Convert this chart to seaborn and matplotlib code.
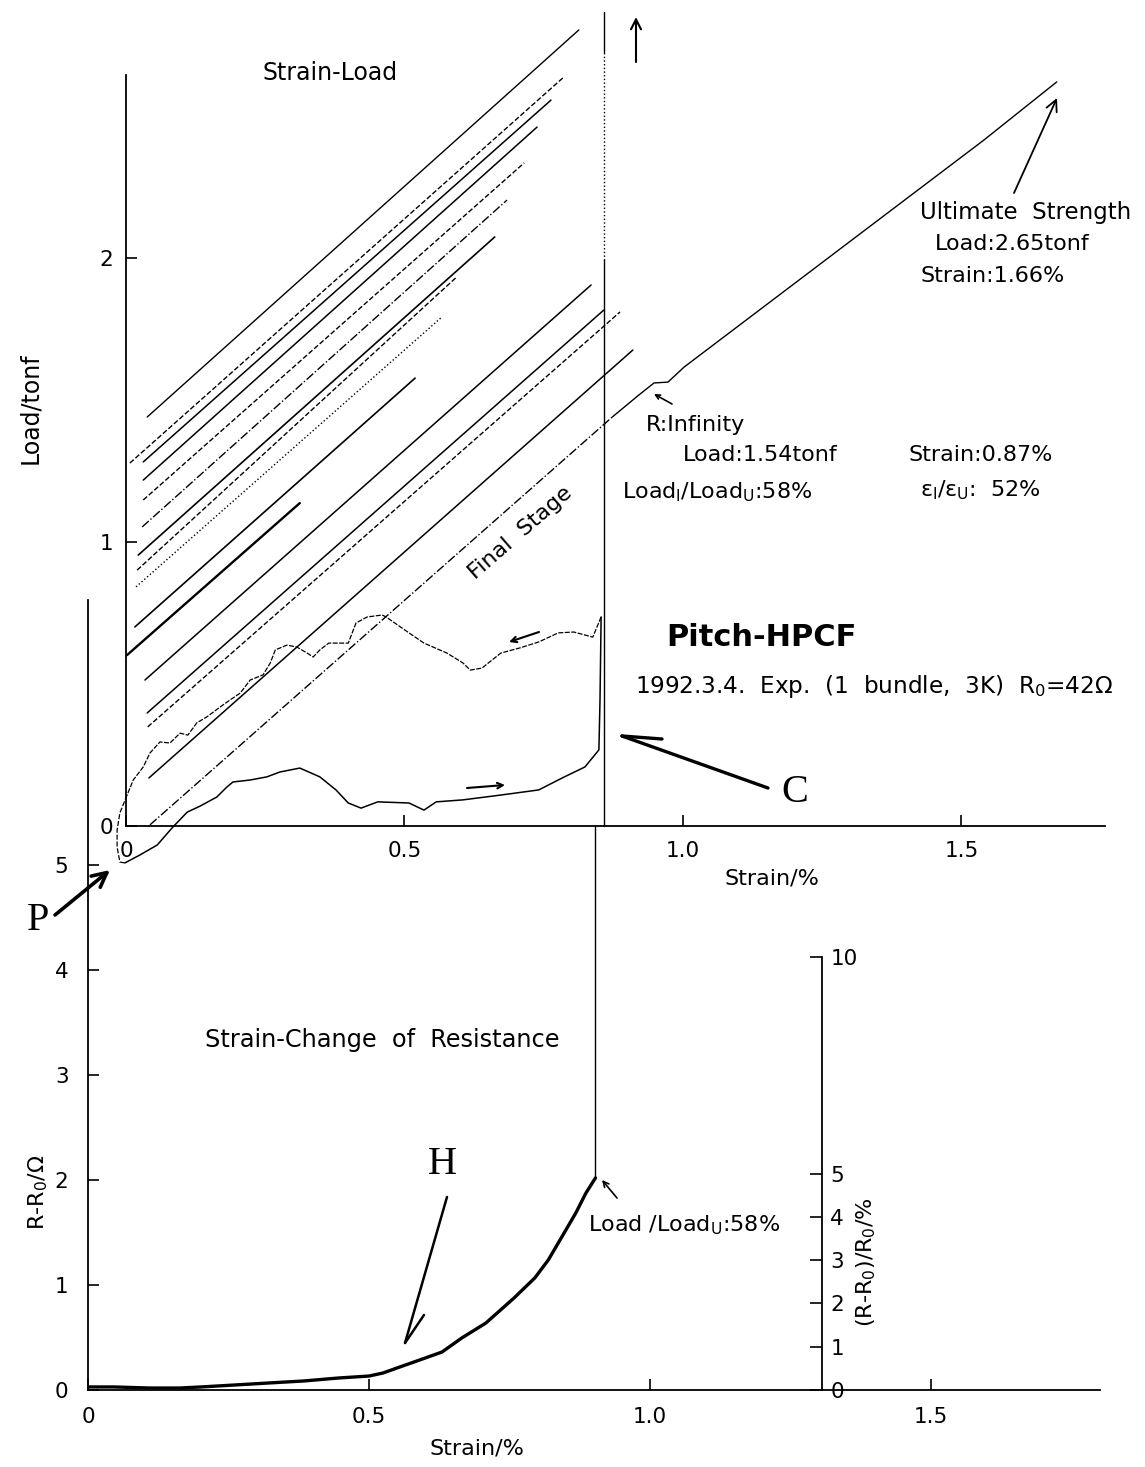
import matplotlib
matplotlib.use("Agg")
import matplotlib.pyplot as plt
import seaborn as sns

# ---------------- data ----------------
# Top panel: Strain (%) - Load (tonf) unloading/reloading cycles
cycle_strain_start = [0.038, 0.007, 0.031, 0.031, 0.031, 0.029, 0.022, 0.020, 0.018, 0.016, 0.002, 0.034, 0.038, 0.039, 0.041]
cycle_load_start = [1.440, 1.278, 1.282, 1.218, 1.148, 1.053, 0.954, 0.901, 0.842, 0.701, 0.602, 0.514, 0.398, 0.349, 0.169]
cycle_strain_end = [0.813, 0.786, 0.763, 0.738, 0.715, 0.684, 0.662, 0.592, 0.567, 0.519, 0.312, 0.835, 0.858, 0.887, 0.910]
cycle_load_end = [2.803, 2.637, 2.556, 2.461, 2.335, 2.204, 2.074, 1.930, 1.792, 1.577, 1.137, 1.905, 1.817, 1.810, 1.676]
cycle_styles = ['-', '--', '-', '-', '--', '-.', '-', '--', ':', '-', '-', '-', '-', '--', '-']
cycle_widths = [1.0, 1.0, 1.1, 1.1, 1.0, 1.0, 1.2, 1.0, 1.0, 1.2, 1.7, 1.1, 1.1, 1.0, 1.1]

# Final loading up to failure
final_strain = [0.043, 0.873, 0.921, 0.948, 0.973, 1.002, 1.540, 1.671]
final_load = [0.004, 1.440, 1.518, 1.560, 1.563, 1.616, 2.415, 2.620]

# Resistance traces drawn in the top panel (loading ->, unloading <-)
lower_strain = [-0.002, 0.025, 0.056, 0.084, 0.110, 0.133, 0.163, 0.181, 0.192, 0.223, 0.253, 0.276, 0.312,
                0.348, 0.377, 0.399, 0.422, 0.452, 0.508, 0.535, 0.557, 0.605, 0.673, 0.741, 0.783, 0.824,
                0.849, 0.851, 0.853]
lower_load = [-0.130, -0.102, -0.067, -0.004, 0.049, 0.070, 0.102, 0.137, 0.155, 0.162, 0.173, 0.190, 0.204,
              0.173, 0.127, 0.081, 0.063, 0.085, 0.081, 0.056, 0.085, 0.092, 0.109, 0.127, 0.169, 0.208,
              0.268, 0.444, 0.736]
upper_strain = [0.853, 0.838, 0.804, 0.776, 0.741, 0.707, 0.673, 0.639, 0.618, 0.605, 0.576, 0.535, 0.508,
                0.467, 0.460, 0.433, 0.413, 0.399, 0.364, 0.348, 0.336, 0.325, 0.307, 0.289, 0.268, 0.259,
                0.246, 0.223, 0.205, 0.187, 0.169, 0.145, 0.127, 0.111, 0.097, 0.079, 0.061, 0.043, 0.031,
                0.013, 0.002]
upper_load = [0.736, 0.665, 0.683, 0.680, 0.648, 0.627, 0.609, 0.556, 0.549, 0.574, 0.609, 0.644, 0.680,
              0.736, 0.743, 0.736, 0.715, 0.644, 0.644, 0.620, 0.595, 0.609, 0.630, 0.637, 0.620, 0.574,
              0.532, 0.514, 0.468, 0.444, 0.419, 0.384, 0.363, 0.320, 0.327, 0.292, 0.296, 0.257, 0.208,
              0.162, 0.109]
loop_strain = [0.002, -0.011, -0.016, -0.016, -0.011, -0.002]
loop_load = [0.109, 0.046, -0.014, -0.074, -0.127, -0.130]

# R -> infinity vertical (top panel strain, load range)
rinf_strain_top = 0.858
rinf_solid_load = [0.0, 1.993]
rinf_dot_load = [1.993, 2.725]
rinf_top_load = [2.725, 2.866]

# Bottom panel: Strain (%) - change of resistance (ohm)
res_strain = [0.002, 0.046, 0.109, 0.164, 0.201, 0.262, 0.322, 0.384, 0.445, 0.500, 0.525, 0.550, 0.585,
              0.630, 0.665, 0.708, 0.758, 0.795, 0.819, 0.843, 0.868, 0.886, 0.903]
res_ohm = [0.029, 0.029, 0.019, 0.019, 0.029, 0.048, 0.067, 0.086, 0.114, 0.133, 0.162, 0.210, 0.276,
           0.362, 0.495, 0.638, 0.876, 1.067, 1.238, 1.457, 1.686, 1.876, 2.020]
res_vertical_ohm = [2.020, 5.37]

top_xticks = [0, 0.5, 1.0, 1.5]
top_xticklabels = ['0', '0.5', '1.0', '1.5']
top_yticks = [0, 1, 2]
bot_xticks = [0, 0.5, 1.0, 1.5]
bot_xticklabels = ['0', '0.5', '1.0', '1.5']
bot_yticks = [0, 1, 2, 3, 4, 5]
pct_ticks = [0, 1, 2, 3, 4, 5, 10]
R0 = 42

# ---------------- figure ----------------
W, H = 1145, 1467
sns.set_theme(style="ticks")
plt.rcParams['font.family'] = ['DejaVu Sans']
plt.rcParams['mathtext.fontset'] = 'dejavusans'

fig = plt.figure(figsize=(W / 100, H / 100), dpi=100)
fig.patch.set_facecolor('white')


def fp(x, y):
    return (x / W, 1 - y / H)


ax_b = fig.add_axes([88 / W, 1 - 1390 / H, (1100 - 88) / W, (1390 - 600) / H])
ax_t = fig.add_axes([126 / W, 1 - 826 / H, (1105 - 126) / W, (826 - 75) / H])
for ax in (ax_b, ax_t):
    ax.patch.set_alpha(0)
    ax.spines['top'].set_visible(False)
    ax.spines['right'].set_visible(False)
    for s in ('left', 'bottom'):
        ax.spines[s].set_color('black')
        ax.spines[s].set_linewidth(1.3)
    ax.grid(False)

ax_t.set_xlim(0, (1105 - 126) / 557)
ax_t.set_ylim(0, (826 - 75) / 284)
ax_b.set_xlim(0, (1100 - 88) / 562)
ax_b.set_ylim(0, (1390 - 600) / 105)

# ticks
ax_t.set_xticks(top_xticks)
ax_t.set_xticklabels(top_xticklabels)
ax_t.set_yticks(top_yticks)
ax_t.tick_params(axis='both', direction='in', length=8, width=1.2, color='black', labelsize=15.5, labelcolor='black')
ax_t.tick_params(axis='x', pad=11)
ax_t.tick_params(axis='y', pad=9)

ax_b.set_xticks(bot_xticks)
ax_b.set_xticklabels(bot_xticklabels)
ax_b.set_yticks(bot_yticks)
ax_b.tick_params(axis='both', direction='in', length=8, width=1.2, color='black', labelsize=15.5, labelcolor='black')
ax_b.tick_params(axis='x', pad=12)
ax_b.tick_params(axis='y', pad=14)

ax_p = ax_b.twinx()
ax_p.patch.set_alpha(0)
for s in ('top', 'left', 'bottom'):
    ax_p.spines[s].set_visible(False)
ax_p.spines['right'].set_position(('data', 1.306))
ax_p.spines['right'].set_bounds(0, 10)
ax_p.spines['right'].set_linewidth(1.3)
ax_p.spines['right'].set_color('black')
ax_p.set_ylim(0, (1390 - 600) / 43.3)
ax_p.set_yticks(pct_ticks)
ax_p.tick_params(axis='y', direction='in', length=9, width=1.2, color='black', labelsize=15.5, pad=6,
                 labelcolor='black')
ax_p.grid(False)

# ---------------- top panel marks ----------------
for i in range(len(cycle_strain_start)):
    sns.lineplot(x=[cycle_strain_start[i], cycle_strain_end[i]], y=[cycle_load_start[i], cycle_load_end[i]],
                 ax=ax_t, color='black', linewidth=cycle_widths[i], linestyle=cycle_styles[i], clip_on=False,
                 sort=False, estimator=None)

sns.lineplot(x=final_strain[:2], y=final_load[:2], ax=ax_t, color='black', linewidth=1.0, linestyle='-.',
             clip_on=False, sort=False, estimator=None)
sns.lineplot(x=final_strain[1:], y=final_load[1:], ax=ax_t, color='black', linewidth=1.0, linestyle='-',
             clip_on=False, sort=False, estimator=None)

sns.lineplot(x=lower_strain, y=lower_load, ax=ax_t, color='black', linewidth=1.1, clip_on=False,
             sort=False, estimator=None)
sns.lineplot(x=upper_strain, y=upper_load, ax=ax_t, color='black', linewidth=0.9, linestyle=(0, (4, 1.2)),
             clip_on=False, sort=False, estimator=None)
sns.lineplot(x=loop_strain, y=loop_load, ax=ax_t, color='black', linewidth=0.9, linestyle=(0, (4, 1.5)),
             clip_on=False, sort=False, estimator=None)

for seg, st in ((rinf_solid_load, '-'), (rinf_dot_load, ':'), (rinf_top_load, '-')):
    sns.lineplot(x=[rinf_strain_top, rinf_strain_top], y=seg, ax=ax_t, color='black', linewidth=1.0,
                 linestyle=st, clip_on=False, sort=False, estimator=None)

# ---------------- bottom panel marks ----------------
sns.lineplot(x=res_strain, y=res_ohm, ax=ax_b, color='black', linewidth=2.4, clip_on=False,
             sort=False, estimator=None)
sns.lineplot(x=[res_strain[-1], res_strain[-1]], y=res_vertical_ohm, ax=ax_b, color='black', linewidth=1.0,
             clip_on=False, sort=False, estimator=None)

ax_t.set_xlabel('')
ax_t.set_ylabel('')
ax_b.set_xlabel('')
ax_b.set_ylabel('')
ax_p.set_ylabel('')


# ---------------- annotations ----------------
def txt(x, y, s, size=16, ha='left', va='center', **kw):
    fig.text(x / W, 1 - y / H, s, fontsize=size, ha=ha, va=va, color='black', **kw)


def arr(x0, y0, x1, y1, lw=1.3, style='->', ms=18):
    ax_t.annotate('', xy=fp(x1, y1), xytext=fp(x0, y0), xycoords='figure fraction',
                  textcoords='figure fraction', annotation_clip=False,
                  arrowprops=dict(arrowstyle=style, lw=lw, color='black', shrinkA=0, shrinkB=0,
                                  mutation_scale=ms))


txt(262, 73, 'Strain-Load', 17)
txt(30, 408, 'Load/tonf', 17, ha='center', rotation=90)
txt(772, 879, 'Strain/%', 16, ha='center')
txt(920, 213, 'Ultimate  Strength', 16.5)
txt(935, 244, 'Load:2.65tonf', 16)
txt(920, 276, 'Strain:1.66%', 16)
txt(646, 425, 'R:Infinity', 16)
txt(683, 455, 'Load:1.54tonf', 16)
txt(909, 455, 'Strain:0.87%', 16)
txt(622, 492, r'Load$_{\mathrm{l}}$/Load$_{\mathrm{U}}$:58%', 16)
txt(920, 490, r'ε$_{\mathrm{l}}$/ε$_{\mathrm{U}}$:  52%', 16)
txt(520, 533, 'Final  Stage', 16, ha='center', rotation=41, rotation_mode='anchor')
txt(666, 638, 'Pitch-HPCF', 22, weight='bold')
txt(635, 687, r'1992.3.4.  Exp.  (1  bundle,  3K)  R$_0$=42Ω', 16.7)
txt(795, 792, 'C', 29, ha='center', family='Liberation Serif')
txt(38, 920, 'P', 29, ha='center', family='Liberation Serif')
txt(442, 1165, 'H', 29, ha='center', family='Liberation Serif')
txt(205, 1040, 'Strain-Change  of  Resistance', 17.3)
txt(38, 1192, r'R-R$_0$/Ω', 16, ha='center', rotation=90)
txt(588, 1225, r'Load /Load$_{\mathrm{U}}$:58%', 16)
txt(866, 1262, r'(R-R$_0$)/R$_0$/%', 16, ha='center', rotation=90)
txt(477, 1448, 'Strain/%', 16, ha='center')

# arrows
arr(768, 788, 622, 736, lw=2.4, style='-')
arr(622, 736, 662, 739, lw=2.4, style='-')
arr(55, 915, 110, 870, lw=2.6, style='->', ms=26)
arr(447, 1197, 405, 1343, lw=1.8, style='-')
arr(405, 1343, 424, 1315, lw=1.8, style='-')
arr(1014, 193, 1057, 98, lw=1.3, style='->', ms=20)
arr(636, 62, 636, 17, lw=1.5, style='->', ms=18)
arr(672, 404, 654, 394, lw=1.2, style='->', ms=8)
arr(617, 1198, 602, 1180, lw=1.2, style='->', ms=10)
arr(539, 632, 509, 642, lw=1.5, style='->', ms=10)
arr(467, 788, 505, 785, lw=1.5, style='->', ms=10)

fig.savefig('out.png', dpi=100, facecolor='white')
